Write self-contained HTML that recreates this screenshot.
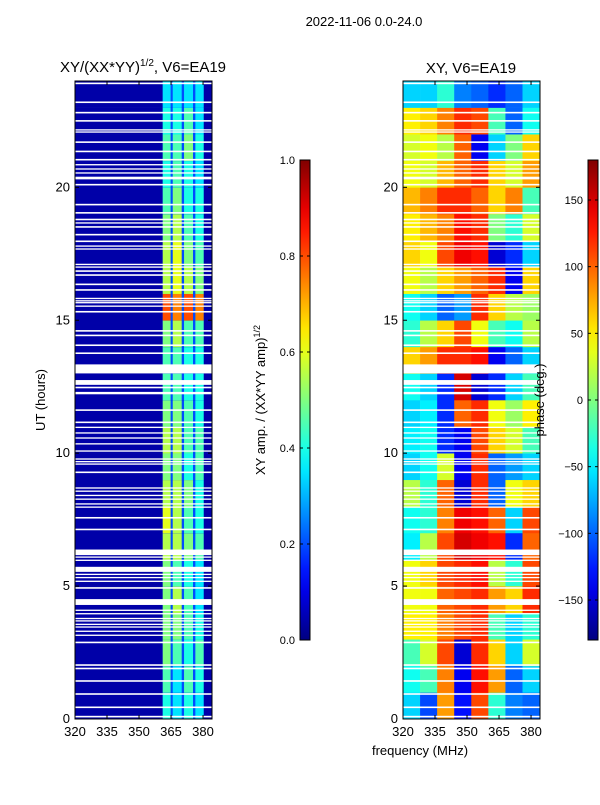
<!DOCTYPE html>
<html><head><meta charset="utf-8"><style>
body{margin:0;background:#fff;width:600px;height:800px;overflow:hidden;font-family:"Liberation Sans","DejaVu Sans",sans-serif}
svg text{font-family:"Liberation Sans","DejaVu Sans",sans-serif;fill:#000}
</style></head><body>
<svg id="fig" width="600" height="800" xmlns="http://www.w3.org/2000/svg">
<text x="364" y="26" font-size="13" text-anchor="middle">2022-11-06 0.0-24.0</text>
<text x="143" y="72" font-size="15" text-anchor="middle">XY/(XX*YY)<tspan font-size="10" dy="-6">1/2</tspan><tspan dy="6">, V6=EA19</tspan></text>
<text x="471" y="73" font-size="15" text-anchor="middle">XY, V6=EA19</text>
<text transform="translate(45,400) rotate(-90)" font-size="13" text-anchor="middle">UT (hours)</text>
<text x="420" y="755" font-size="13" text-anchor="middle">frequency (MHz)</text>
<text transform="translate(265,400) rotate(-90)" font-size="13" text-anchor="middle">XY amp. / (XX*YY amp)<tspan font-size="9" dy="-5">1/2</tspan></text>
<g id="left"></g>
<g id="right"></g>
<g id="cb"></g>
<text transform="translate(544,400) rotate(-90)" font-size="13" text-anchor="middle">phase (deg.)</text>
</svg>
<script>
// ---- data ----
const hours = [0,1,2,3,4,5,6,7,8,9,10,11,12,13,14,15,16,17,18,19,20,21,22,23];
const bandStart = [361.1,365.8,371.1,376.4];
const bandEnd   = [364.8,370.0,375.3,380.3];
const bandAmp = [
[.4,.35,.4,.35],[.45,.35,.45,.4],[.5,.45,.4,.45],[.5,.5,.45,.4],[.5,.55,.45,.35],[.5,.45,.4,.35],
[.55,.55,.5,.45],[.6,.55,.45,.4],[.55,.55,.5,.4],[.5,.5,.4,.45],[.55,.55,.45,.45],[.5,.5,.45,.4],
[.45,.45,.4,.4],[.45,.45,.4,.4],[.5,.55,.45,.45],[.8,.75,.8,.75],[.55,.6,.55,.5],[.55,.6,.5,.45],
[.5,.55,.45,.4],[.45,.5,.4,.4],[.4,.45,.4,.35],[.45,.45,.5,.4],[.4,.4,.45,.35],[.35,.35,.35,.35]];
const bgAmp = 0.04;
const gapAmp = 0.2;
const phaseCols = [320,328,336,344,352,360,368,376];
const phaseGrid = [
[-60,-110,80,-130,110,-30,-90,-100],
[-40,-20,90,-140,130,80,-100,-60],
[-20,30,110,-150,120,60,-60,30],
[50,50,90,110,120,-20,-60,-30],
[40,40,100,110,120,80,60,120],
[40,60,110,120,130,20,-30,110],
[-50,20,110,150,140,130,-120,100],
[-40,-30,90,140,130,100,-60,110],
[20,-30,100,-150,120,-100,40,60],
[-60,-40,30,-140,120,-100,-80,-60],
[-50,-40,-120,-140,110,60,30,-20],
[-60,-50,-120,100,120,40,10,50],
[-40,-60,-120,150,-150,-120,-60,-20],
[60,80,120,120,130,-140,-100,-60],
[-30,20,60,110,40,-20,-40,20],
[-40,-60,-100,-80,120,60,20,10],
[40,20,60,80,100,120,-140,60],
[60,40,110,140,130,-150,-120,-60],
[50,70,90,130,120,0,-30,30],
[70,90,120,120,100,60,90,-20],
[40,30,70,100,120,60,30,80],
[30,40,20,100,-140,-60,0,60],
[50,60,90,120,110,-20,-100,-40],
[-60,-60,-30,-90,-100,-120,-100,-60]];
const flagTimes = [23.91,23.2,22.81,22.5,22.16,22.08,21.7,21.35,21.04,20.85,20.69,20.54,20.35,20.1,19.35,19.04,18.79,18.66,18.51,18.22,17.97,17.79,17.68,17.1,17.0,16.85,16.7,16.35,16.14,15.82,15.73,15.66,15.53,15.32,14.6,14.43,14.06,13.76,13.18,13.03,12.66,12.47,12.26,11.62,11.16,10.97,10.76,10.57,10.35,10.08,9.78,9.68,9.59,9.28,8.69,8.57,8.41,8.27,8.09,7.97,7.57,7.13,6.28,6.19,6.09,5.97,5.65,5.56,5.44,5.32,5.18,4.93,4.4,4.34,4.09,3.96,3.78,3.69,3.56,3.46,3.3,3.15,2.88,2.03,1.9,1.43,0.94,0.44,0.09];
const flagDur = [0.06,0.06,0.06,0.06,0.05,0.05,0.06,0.06,0.06,0.05,0.05,0.05,0.1,0.06,0.06,0.06,0.06,0.05,0.06,0.06,0.06,0.05,0.05,0.05,0.05,0.06,0.06,0.06,0.06,0.05,0.05,0.05,0.05,0.06,0.06,0.06,0.06,0.06,0.32,0.06,0.18,0.06,0.09,0.06,0.06,0.05,0.05,0.05,0.05,0.05,0.05,0.05,0.05,0.06,0.05,0.05,0.05,0.05,0.05,0.05,0.06,0.06,0.19,0.05,0.05,0.05,0.15,0.05,0.05,0.05,0.05,0.06,0.22,0.05,0.05,0.05,0.05,0.05,0.05,0.05,0.05,0.05,0.06,0.06,0.06,0.06,0.06,0.06,0.06];
const yTicks = [0,5,10,15,20];
const xTicks = [320,335,350,365,380];
const ampTicks = [0.0,0.2,0.4,0.6,0.8,1.0];
const phaseTicks = [-150,-100,-50,0,50,100,150];

// ---- helpers ----
const NS="http://www.w3.org/2000/svg";
function jet(t){t=Math.max(0,Math.min(1,t));const c=v=>Math.round(255*Math.max(0,Math.min(1,v)));
 return `rgb(${c(1.5-Math.abs(4*t-3))},${c(1.5-Math.abs(4*t-2))},${c(1.5-Math.abs(4*t-1))})`;}
function mk(parent,tag,attrs){const e=document.createElementNS(NS,tag);for(const k in attrs)e.setAttribute(k,attrs[k]);parent.appendChild(e);return e;}
const F0=320,F1=384.2,T0=0,T1=24;
function makeAxes(x0){
 const w=137,top=81,bot=719;
 return {x:f=>x0+(f-F0)/(F1-F0)*w, y:t=>bot-(t-T0)/(T1-T0)*(bot-top), x0, w, top, bot};
}
function frame(g,ax,prefix){
 for(let i=0;i<flagTimes.length;i++){
  const r=mk(g,'rect',{x:ax.x0,y:ax.y(flagTimes[i]+flagDur[i]/2),width:ax.w,height:Math.max(1.2,ax.y(flagTimes[i]-flagDur[i]/2)-ax.y(flagTimes[i]+flagDur[i]/2)),fill:'#fff'});
  
  
 }
 const b=mk(g,'rect',{x:ax.x0,y:ax.top,width:ax.w,height:ax.bot-ax.top,fill:'none',stroke:'#000','stroke-width':1});
 
 
 yTicks.forEach(t=>{const y=ax.y(t);
  mk(g,'line',{x1:ax.x0,x2:ax.x0+4,y1:y,y2:y,stroke:'#000'});
  mk(g,'line',{x1:ax.x0+ax.w-4,x2:ax.x0+ax.w,y1:y,y2:y,stroke:'#000'});
  const tx=mk(g,'text',{x:ax.x0-5,y:y+4,'font-size':13,'text-anchor':'end'});tx.textContent=t;
  
  
 });
 xTicks.forEach(f=>{const x=ax.x(f);
  mk(g,'line',{x1:x,x2:x,y1:ax.bot,y2:ax.bot-4,stroke:'#000'});
  mk(g,'line',{x1:x,x2:x,y1:ax.top,y2:ax.top+4,stroke:'#000'});
  const tx=mk(g,'text',{x:x,y:ax.bot+17,'font-size':13,'text-anchor':'middle'});tx.textContent=f;
  
  
 });
}
// ---- left amplitude ----
const L=makeAxes(75), gl=document.getElementById('left');
hours.forEach((h,i)=>{
 const y0=L.y(h+1), hh=L.y(h)-L.y(h+1);
 const bg=mk(gl,'rect',{x:L.x0,y:y0,width:L.w,height:hh+0.3,fill:jet(bgAmp)});
 
 
 const gp=mk(gl,'rect',{x:L.x(bandStart[0]),y:y0,width:L.x(bandEnd[3])-L.x(bandStart[0]),height:hh+0.3,fill:jet(gapAmp)});
 
 
 bandStart.forEach((s,b)=>{
  const r=mk(gl,'rect',{x:L.x(s),y:y0,width:L.x(bandEnd[b])-L.x(s),height:hh+0.3,fill:jet(bandAmp[i][b])});
  
  
 });
});
frame(gl,L,'left');
// ---- right phase ----
const R=makeAxes(403), gr=document.getElementById('right');
hours.forEach((h,i)=>{
 const y0=R.y(h+1), hh=R.y(h)-R.y(h+1);
 phaseCols.forEach((f,c)=>{
  const f2=c<phaseCols.length-1?phaseCols[c+1]:F1;
  const r=mk(gr,'rect',{x:R.x(f),y:y0,width:R.x(f2)-R.x(f)+0.3,height:hh+0.3,fill:jet((phaseGrid[i][c]+180)/360)});
  
  
 });
});
frame(gr,R,'right');
// ---- colorbars ----
const gc=document.getElementById('cb');
const defs=mk(gc,'defs',{});const lg=mk(defs,'linearGradient',{id:'jetg',x1:0,y1:1,x2:0,y2:0});
for(let k=0;k<=20;k++)mk(lg,'stop',{offset:k/20,'stop-color':jet(k/20)});
function colorbar(x,ticks,lo,hi,name){
 const top=160,bot=640,w=10;
 const r=mk(gc,'rect',{x:x,y:top,width:w,height:bot-top,fill:'url(#jetg)',stroke:'#000','stroke-width':1});
 
 
 ticks.forEach(v=>{const y=bot-(v-lo)/(hi-lo)*(bot-top);
  mk(gc,'line',{x1:x,x2:x+3,y1:y,y2:y,stroke:'#000'});
  mk(gc,'line',{x1:x+w-3,x2:x+w,y1:y,y2:y,stroke:'#000'});
  const t=mk(gc,'text',{x:x-5,y:y+4,'font-size':11,'text-anchor':'end'});
  t.textContent=(v<0?'\u2212'+(-v):(lo===0?v.toFixed(1):v));
  
  
 });
}
colorbar(300,ampTicks,0,1,'amp-colorbar');
colorbar(588,phaseTicks,-180,180,'phase-colorbar');
</script>
</body></html>
